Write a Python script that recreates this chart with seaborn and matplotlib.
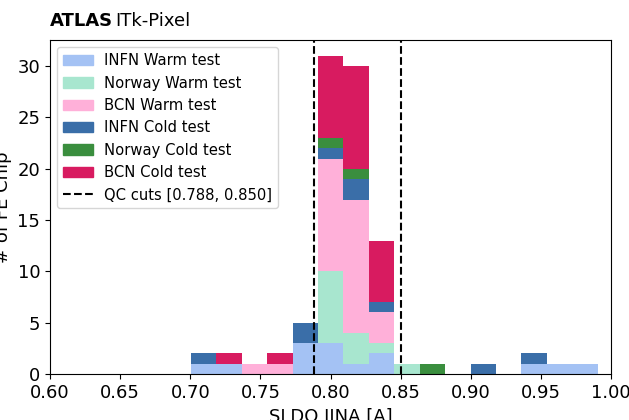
import matplotlib
matplotlib.use("Agg")
import matplotlib.pyplot as plt
from matplotlib.patches import Patch
from matplotlib.lines import Line2D
import numpy as np
import pandas as pd
import seaborn as sns

# Bin edges of the histogram (16 bins over the measured range)
bin_edges = list(np.linspace(0.7005, 0.9905, 17))

# Counts per bin for each site / test
infn_warm = [1, 1, 0, 0, 3, 3, 1, 2, 0, 0, 0, 0, 0, 1, 1, 1]
norway_warm = [0, 0, 0, 0, 0, 7, 3, 1, 1, 0, 0, 0, 0, 0, 0, 0]
bcn_warm = [0, 0, 1, 1, 0, 11, 13, 3, 0, 0, 0, 0, 0, 0, 0, 0]
infn_cold = [1, 0, 0, 0, 2, 1, 2, 1, 0, 0, 0, 1, 0, 1, 0, 0]
norway_cold = [0, 0, 0, 0, 0, 1, 1, 0, 0, 1, 0, 0, 0, 0, 0, 0]
bcn_cold = [0, 1, 0, 1, 0, 8, 10, 6, 0, 0, 0, 0, 0, 0, 0, 0]

labels = ["INFN Warm test", "Norway Warm test", "BCN Warm test",
          "INFN Cold test", "Norway Cold test", "BCN Cold test"]
colors = ["#a4c2f4", "#a8e6cf", "#ffb0d9", "#3a6ea8", "#3a8e3e", "#d81b60"]
qc_cuts = [0.788, 0.850]


def build_frame():
    """Long-format table: one row per bin and group, weighted by count"""
    edges = np.array(bin_edges)
    centers = (edges[:-1] + edges[1:]) / 2
    rows = []
    for label, counts in zip(labels, [infn_warm, norway_warm, bcn_warm,
                                      infn_cold, norway_cold, bcn_cold]):
        for c, n in zip(centers, counts):
            rows.append({"value": c, "count": n, "group": label})
    return pd.DataFrame(rows)


def draw_hist():
    df = build_frame()

    fig = plt.figure(figsize=(6.29, 4.2), dpi=100)
    ax = fig.add_axes([0.0795, 0.1095, 0.8919, 0.7953])

    # seaborn stacks the first hue level on top, so reverse the order
    sns.histplot(data=df, x="value", weights="count", hue="group",
                 hue_order=labels[::-1], palette=colors[::-1],
                 multiple="stack", bins=bin_edges, alpha=1, linewidth=0,
                 legend=False, ax=ax)

    for cut in qc_cuts:
        ax.axvline(cut, color="black", linestyle="--", linewidth=1.5)

    ticks = np.arange(0.6, 1.001, 0.05)
    ax.set_xlim(0.6, 1.0)
    ax.set_xticks(ticks)
    ax.set_xticklabels([f"{t:.2f}" for t in ticks])
    ax.set_yticks([0, 5, 10, 15, 20, 25, 30])
    ax.tick_params(labelsize=13)
    ax.set_xlabel("SLDO IINA [A]", fontsize=13)
    ax.set_ylabel("# of FE Chip", fontsize=13)

    handles = [Patch(color=c, label=l) for c, l in zip(colors, labels)]
    handles.append(Line2D([0], [0], color="black", linestyle="--",
                          label=f"QC cuts [{qc_cuts[0]:.3f}, {qc_cuts[1]:.3f}]"))
    ax.legend(handles=handles, loc="upper left", fontsize=10.6)

    # ATLAS label above the axes
    ax.text(0.0, 1.03, "ATLAS", transform=ax.transAxes, fontsize=13,
            fontweight="bold", ha="left", va="bottom")
    ax.text(0.117, 1.03, "ITk-Pixel", transform=ax.transAxes, fontsize=13,
            ha="left", va="bottom")

    fig.savefig("out.png", dpi=100)
    return fig


if __name__ == "__main__":
    draw_hist()
